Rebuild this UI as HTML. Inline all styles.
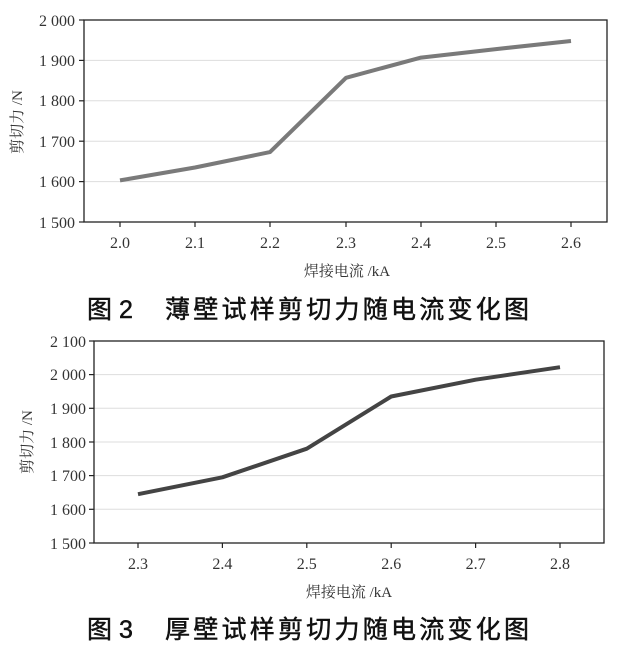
<html><head><style>body{margin:0;background:#fff}</style></head><body>
<svg width="618" height="651" xmlns="http://www.w3.org/2000/svg" font-family="Liberation Serif, Noto Serif CJK SC, serif">
<g stroke="#ddd" stroke-width="1">
<line x1="84" x2="607" y1="60.4" y2="60.4"/><line x1="84" x2="607" y1="100.8" y2="100.8"/><line x1="84" x2="607" y1="141.2" y2="141.2"/><line x1="84" x2="607" y1="181.6" y2="181.6"/>
<line x1="94" x2="604" y1="374.6" y2="374.6"/><line x1="94" x2="604" y1="408.3" y2="408.3"/><line x1="94" x2="604" y1="442" y2="442"/><line x1="94" x2="604" y1="475.6" y2="475.6"/><line x1="94" x2="604" y1="509.3" y2="509.3"/>
</g>
<rect x="84" y="20" width="523" height="202" fill="none" stroke="#222" stroke-width="1.3"/>
<rect x="94" y="341" width="510" height="202" fill="none" stroke="#222" stroke-width="1.3"/>
<g stroke="#222" stroke-width="1.2">
<line x1="79" x2="84" y1="20" y2="20"/><line x1="79" x2="84" y1="60.4" y2="60.4"/><line x1="79" x2="84" y1="100.8" y2="100.8"/><line x1="79" x2="84" y1="141.2" y2="141.2"/><line x1="79" x2="84" y1="181.6" y2="181.6"/><line x1="79" x2="84" y1="222" y2="222"/>
<line x1="120" x2="120" y1="222" y2="227"/><line x1="195" x2="195" y1="222" y2="227"/><line x1="270" x2="270" y1="222" y2="227"/><line x1="346" x2="346" y1="222" y2="227"/><line x1="421" x2="421" y1="222" y2="227"/><line x1="496" x2="496" y1="222" y2="227"/><line x1="571" x2="571" y1="222" y2="227"/>
<line x1="89" x2="94" y1="341" y2="341"/><line x1="89" x2="94" y1="374.6" y2="374.6"/><line x1="89" x2="94" y1="408.3" y2="408.3"/><line x1="89" x2="94" y1="442" y2="442"/><line x1="89" x2="94" y1="475.6" y2="475.6"/><line x1="89" x2="94" y1="509.3" y2="509.3"/><line x1="89" x2="94" y1="543" y2="543"/>
<line x1="138" x2="138" y1="543" y2="548"/><line x1="222.4" x2="222.4" y1="543" y2="548"/><line x1="306.8" x2="306.8" y1="543" y2="548"/><line x1="391.2" x2="391.2" y1="543" y2="548"/><line x1="475.6" x2="475.6" y1="543" y2="548"/><line x1="560" x2="560" y1="543" y2="548"/>
</g>
<polyline points="120,180.4 195,167.5 270,152.1 346,77.8 421,57.6 496,49.1 571,41" fill="none" stroke="#7a7a7a" stroke-width="4" stroke-linejoin="round"/>
<polyline points="138,494.2 222.4,477.3 306.8,448.7 391.2,396.5 475.6,379.7 560,367.2" fill="none" stroke="#444" stroke-width="4" stroke-linejoin="round"/>
<g font-size="16" fill="#333" text-anchor="end">
<text x="75" y="26">2 000</text><text x="75" y="66">1 900</text><text x="75" y="106">1 800</text><text x="75" y="147">1 700</text><text x="75" y="187">1 600</text><text x="75" y="228">1 500</text>
<text x="86" y="347">2 100</text><text x="86" y="380">2 000</text><text x="86" y="414">1 900</text><text x="86" y="448">1 800</text><text x="86" y="481">1 700</text><text x="86" y="515">1 600</text><text x="86" y="549">1 500</text>
</g>
<g font-size="16" fill="#333" text-anchor="middle">
<text x="120" y="248">2.0</text><text x="195" y="248">2.1</text><text x="270" y="248">2.2</text><text x="346" y="248">2.3</text><text x="421" y="248">2.4</text><text x="496" y="248">2.5</text><text x="571" y="248">2.6</text>
<text x="138" y="569">2.3</text><text x="222.4" y="569">2.4</text><text x="306.8" y="569">2.5</text><text x="391.2" y="569">2.6</text><text x="475.6" y="569">2.7</text><text x="560" y="569">2.8</text>
<text x="347" y="276" font-size="15">焊接电流 /kA</text>
<text x="349" y="597" font-size="15">焊接电流 /kA</text>
<text transform="translate(22,122) rotate(-90)" font-size="15">剪切力 /N</text>
<text transform="translate(32,442) rotate(-90)" font-size="15">剪切力 /N</text>
</g>
<g font-family="Liberation Sans, Noto Sans CJK SC, sans-serif" font-size="25" fill="#111" stroke="#111" stroke-width="0.5">
<text x="87" y="318">图 2</text><text x="165" y="318" textLength="364">薄壁试样剪切力随电流变化图</text>
<text x="87" y="638">图 3</text><text x="165" y="638" textLength="364">厚壁试样剪切力随电流变化图</text>
</g>
</svg>
</body></html>
